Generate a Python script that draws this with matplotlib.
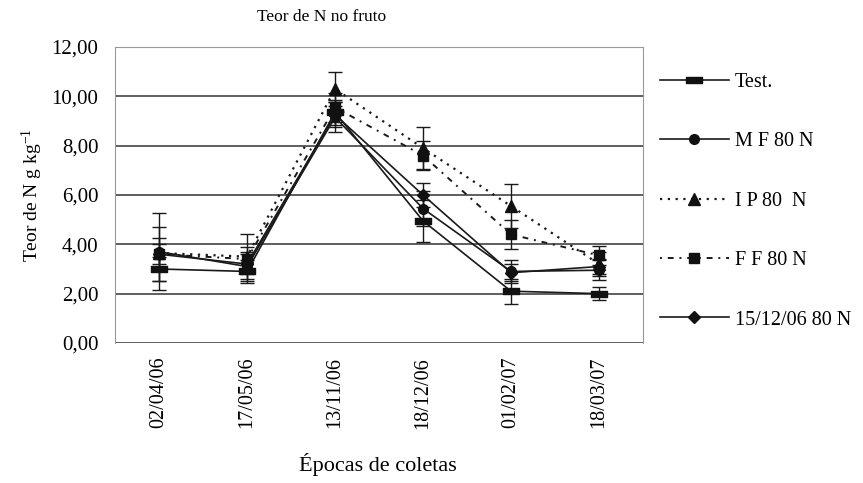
import numpy as np
import matplotlib
matplotlib.use('Agg')
import matplotlib.pyplot as plt
from matplotlib.path import Path

plt.rcParams['font.family'] = ['Liberation Serif', 'DejaVu Serif']
plt.rcParams['mathtext.default'] = 'regular'

# Data
dates = ['02/04/06', '17/05/06', '13/11/06', '18/12/06', '01/02/07', '18/03/07']
series_names = ['Test.', 'M F 80 N', 'I P 80  N', 'F F 80 N', '15/12/06 80 N']

test_vals = [3.00, 2.90, 9.35, 4.95, 2.10, 2.00]
test_err = [0.50, 0.45, 0.50, 0.85, 0.50, 0.25]
mf_vals = [3.70, 3.10, 9.15, 5.45, 2.90, 2.95]
mf_err = [1.55, 0.60, 0.60, 0.70, 0.45, 0.40]
ip_vals = [3.65, 3.50, 10.30, 7.90, 5.55, 3.20]
ip_err = [0.60, 0.90, 0.70, 0.85, 0.90, 0.50]
ff_vals = [3.60, 3.40, 9.55, 7.60, 4.40, 3.55]
ff_err = [1.10, 0.50, 0.60, 0.60, 0.60, 0.40]
d_vals = [3.60, 3.20, 9.25, 6.00, 2.85, 3.10]
d_err = [0.40, 0.40, 0.50, 0.50, 0.35, 0.30]

# horizontal bar marker for the control
bar_marker = Path([(-1, -0.33), (1, -0.33), (1, 0.33), (-1, 0.33), (-1, -0.33)],
                  [Path.MOVETO, Path.LINETO, Path.LINETO, Path.LINETO, Path.CLOSEPOLY])

styles = [
    dict(ls='-', lw=1.2, marker=bar_marker, ms=11),
    dict(ls='-', lw=1.2, marker='o', ms=7),
    dict(ls=(0, (1, 2.5)), lw=1.6, marker='^', ms=8),
    dict(ls=(0, (1, 3, 3, 3)), lw=1.4, marker='s', ms=7),
    dict(ls='-', lw=1.2, marker='D', ms=6),
]
all_vals = [test_vals, mf_vals, ip_vals, ff_vals, d_vals]
all_err = [test_err, mf_err, ip_err, ff_err, d_err]

fig = plt.figure(figsize=(8.63, 4.83), dpi=100)
ax = fig.add_axes([0.1333, 0.2899, 0.6118, 0.6128])

x = np.arange(len(dates))
for vals, err, st, name in zip(all_vals, all_err, styles, series_names):
    ax.errorbar(x, vals, yerr=err, fmt='none', ecolor='#1a1a1a', elinewidth=1,
                capsize=5, capthick=1, zorder=3)
    ax.plot(x, vals, color='#1a1a1a', lw=st['lw'], ls=st['ls'], marker=st['marker'],
            ms=st['ms'], mfc='#111111', mec='#111111', label=name, zorder=4)

ax.set_xlim(-0.5, len(dates) - 0.5)
ax.set_ylim(0, 12)
ax.set_yticks(np.arange(0, 12.1, 2))
ax.set_yticklabels([f'{v:.2f}'.replace('.', ',') for v in np.arange(0, 12.1, 2)], fontsize=15)
ax.set_xticks(x)
ax.set_xticklabels(dates, rotation=90, fontsize=14.5)
ax.tick_params(axis='x', length=0, pad=10)
ax.tick_params(axis='y', length=0, pad=12)
ax.yaxis.grid(True, color='#333333', lw=1.1)
ax.set_axisbelow(True)
for s in ax.spines.values():
    s.set_color('#999999')
ax.spines['bottom'].set_visible(False)

ax.set_ylabel('Teor de N g kg$^{-1}$', fontsize=14, labelpad=5)
fig.text(0.438, 0.0375, 'Épocas de coletas', ha='center', va='center', fontsize=16)
fig.text(0.373, 0.965, 'Teor de N no fruto', ha='center', va='center', fontsize=12.5)

fig.legend(loc='upper left', bbox_to_anchor=(0.765, 0.849), frameon=False,
           fontsize=14.5, handlelength=3.4, labelspacing=2.0, handletextpad=0.3,
           borderpad=0, borderaxespad=0)

fig.savefig('out.png', dpi=100)
